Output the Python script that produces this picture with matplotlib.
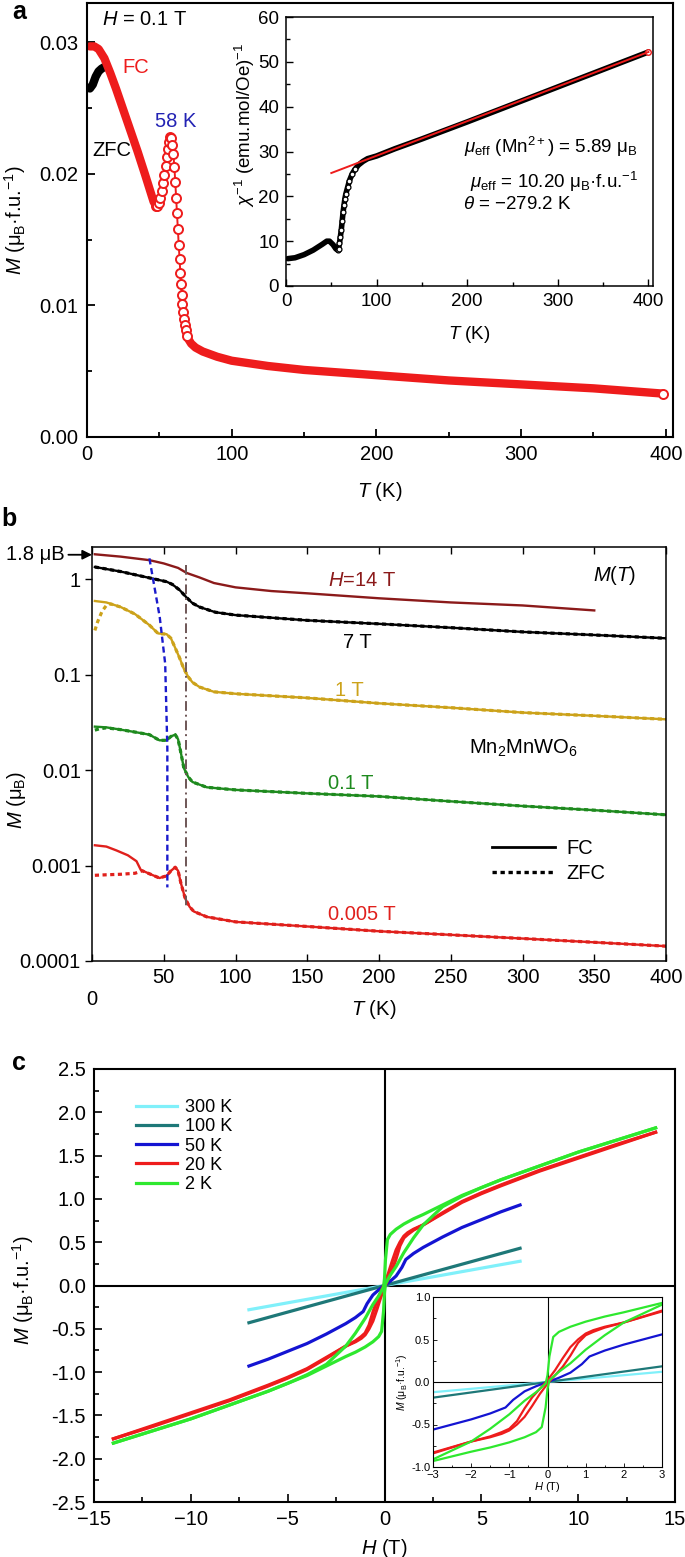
import numpy as np
import matplotlib
matplotlib.use("Agg")
import matplotlib.pyplot as plt
from matplotlib.lines import Line2D
from matplotlib.ticker import MultipleLocator, FormatStrFormatter, NullLocator

plt.rcParams["font.family"] = ["Liberation Sans", "DejaVu Sans"]
plt.rcParams["mathtext.fontset"] = "custom"
plt.rcParams["mathtext.rm"] = "Liberation Sans"
plt.rcParams["mathtext.it"] = "Liberation Sans:italic"
plt.rcParams["mathtext.bf"] = "Liberation Sans:bold"
plt.rcParams["font.size"] = 14.5

W, H = 685, 1557

# ---- panel a: M(T) at 0.1 T ----
a_fc_T = np.array([2, 5, 8, 12, 16, 20, 25, 30, 35, 40, 44, 46, 47.5, 48.5, 49.5, 50.5,
                   51.5, 52.5, 53.5, 54.5, 55.5, 56.3, 57, 57.5, 58.2, 59, 59.7, 60.4, 61,
                   61.6, 62.2, 62.8, 63.4, 64, 64.5, 65, 65.5, 66, 66.5, 67, 67.6, 68.3,
                   69.2, 70.3, 72, 75, 80, 90, 100, 125, 150, 200, 250, 300, 350, 398])
a_fc_M = np.array([0.0297, 0.0297, 0.0295, 0.0288, 0.0277, 0.0265, 0.0249, 0.0233, 0.0217,
                   0.0200, 0.0186, 0.0179, 0.0176, 0.0176, 0.0178, 0.0182, 0.0187, 0.0193,
                   0.0199, 0.0206, 0.0213, 0.0219, 0.0224, 0.0228, 0.0227, 0.0222, 0.0215,
                   0.0205, 0.0194, 0.0182, 0.0170, 0.0158, 0.0146, 0.0135, 0.0125, 0.0116,
                   0.0108, 0.0101, 0.0095, 0.0090, 0.0085, 0.0081, 0.0077, 0.0074, 0.0071,
                   0.0068, 0.0065, 0.0061, 0.0058, 0.0054, 0.0051, 0.0047, 0.0043, 0.0040,
                   0.0037, 0.0033])
a_zfc_T = np.array([2, 4, 6, 8, 10, 13])
a_zfc_M = np.array([0.0265, 0.0268, 0.0274, 0.0278, 0.0280, 0.0282])

# inset: inverse susceptibility and Curie-Weiss fit
chi_T = np.array([2, 10, 20, 30, 40, 45, 48, 52, 55, 57, 58, 59, 60, 61, 62, 63, 64, 65, 66,
                  68, 70, 73, 76, 80, 85, 90, 100, 120, 150, 200, 250, 300, 350, 400])
chi_inv = np.array([6.1, 6.3, 7.0, 8.0, 9.3, 10.0, 10.0, 9.2, 8.3, 8.0, 8.3, 9.5, 11.0, 12.5,
                    14.5, 16.5, 18.0, 19.5, 20.5, 22.0, 23.5, 25.0, 26.0, 27.0, 27.8, 28.4,
                    29.0, 30.6, 32.8, 36.6, 40.5, 44.4, 48.3, 52.2])
fit_T = [50, 400]
fit_chi = [25.2, 52.2]

# ---- panel b: M(T) at several fields (FC / ZFC) ----
b14_T = [2, 20, 40, 50, 60, 66, 75, 85, 100, 125, 150, 200, 250, 300, 350]
b14_M = [1.82, 1.72, 1.58, 1.46, 1.31, 1.16, 1.04, 0.91, 0.82, 0.75, 0.71, 0.63, 0.57, 0.53, 0.47]

b7_T = [2, 20, 40, 52, 56, 61, 66, 70, 75, 86, 100, 150, 200, 250, 300, 350, 400]
b7_M = [1.34, 1.20, 1.03, 0.94, 0.88, 0.77, 0.64, 0.56, 0.51, 0.45, 0.42, 0.37, 0.34, 0.31,
        0.28, 0.26, 0.24]

b1_T = [2, 10, 20, 30, 40, 46, 52, 55, 58, 61, 64, 67, 70, 75, 85, 100, 150, 200, 250, 300,
        350, 400]
b1_M = [0.59, 0.57, 0.51, 0.43, 0.33, 0.27, 0.265, 0.24, 0.19, 0.15, 0.115, 0.095, 0.083,
        0.074, 0.066, 0.063, 0.057, 0.050, 0.045, 0.040, 0.037, 0.034]
b1_zfc_T = [2, 4, 7, 10, 13]
b1_zfc_M = [0.29, 0.36, 0.46, 0.53, 0.55]

b01_T = [2, 10, 20, 30, 40, 47, 52, 55, 58, 60, 62, 64, 67, 70, 80, 100, 150, 200, 250, 300,
         350, 400]
b01_M = [0.0285, 0.0280, 0.0265, 0.0250, 0.0235, 0.0205, 0.0205, 0.0225, 0.0235, 0.0210,
         0.0150, 0.0105, 0.0085, 0.0075, 0.0066, 0.0062, 0.0057, 0.0053, 0.0047, 0.0042,
         0.0038, 0.0034]
b01_zfc_T = [2, 5, 10]
b01_zfc_M = [0.0262, 0.0270, 0.0277]

b005_T = [2, 10, 17, 25, 31, 34, 40, 47, 52, 55, 58, 60, 62, 65, 68, 71, 80, 100, 150, 200,
          250, 300, 350, 400]
b005_M = [0.00163, 0.00158, 0.00144, 0.00128, 0.00111, 0.00090, 0.00082, 0.00074, 0.00078,
          0.00088, 0.00096, 0.00088, 0.00065, 0.00045, 0.00037, 0.00033, 0.00029, 0.000257,
          0.00023, 0.000205, 0.000188, 0.000172, 0.000157, 0.000143]
b005_zfc_T = [2, 10, 20, 30, 35]
b005_zfc_M = [0.00079, 0.00080, 0.00081, 0.00083, 0.00088]

guide1_T = [40, 47.2, 51, 52.5, 52.5]
guide1_M = [1.65, 0.40, 0.13, 0.017, 0.00059]
guide2_T = [65.5, 65.5]
guide2_M = [1.4, 0.00035]

# ---- panel c: M(H) loops ----
h_2K = [14, 12, 10, 8, 6, 5, 4, 3, 2, 1.5, 1, 0.6, 0.3, 0.15, 0.05, 0, -0.05, -0.15, -0.3,
        -0.6, -1, -1.5, -2, -3, -4, -5, -6, -8, -10, -12, -14]
m_2K_down = [1.82, 1.68, 1.54, 1.38, 1.22, 1.13, 1.04, 0.93, 0.82, 0.77, 0.71, 0.65, 0.59,
             0.53, 0.30, 0.08, -0.02, -0.06, -0.12, -0.22, -0.38, -0.55, -0.70, -0.91, -1.03,
             -1.13, -1.22, -1.38, -1.54, -1.68, -1.82]
m_2K_up = [1.82, 1.68, 1.54, 1.38, 1.22, 1.13, 1.03, 0.91, 0.70, 0.55, 0.38, 0.22, 0.12, 0.06,
           0.02, -0.08, -0.30, -0.53, -0.59, -0.65, -0.71, -0.77, -0.82, -0.93, -1.04, -1.13,
           -1.22, -1.38, -1.54, -1.68, -1.82]

h_20K = [14, 12, 10, 8, 6, 5, 4, 3, 2, 1.5, 1.2, 1, 0.8, 0.6, 0.4, 0.2, 0, -0.2, -0.4, -0.6,
         -0.8, -1, -1.2, -1.5, -2, -3, -4, -5, -6, -8, -10, -12, -14]
m_20K_down = [1.77, 1.62, 1.47, 1.32, 1.15, 1.06, 0.96, 0.83, 0.70, 0.65, 0.61, 0.57, 0.50,
              0.41, 0.28, 0.14, 0.02, -0.08, -0.18, -0.31, -0.46, -0.55, -0.59, -0.64, -0.70,
              -0.84, -0.97, -1.07, -1.16, -1.33, -1.48, -1.63, -1.77]
m_20K_up = [1.77, 1.63, 1.48, 1.33, 1.16, 1.07, 0.97, 0.84, 0.70, 0.64, 0.59, 0.55, 0.46,
            0.31, 0.18, 0.08, -0.02, -0.14, -0.28, -0.41, -0.50, -0.57, -0.61, -0.65, -0.70,
            -0.83, -0.96, -1.06, -1.15, -1.32, -1.47, -1.62, -1.77]

h_50K = [7, 6, 5, 4, 3, 2, 1.5, 1.1, 0.9, 0.6, 0.3, 0, -0.3, -0.6, -0.9, -1.1, -1.5, -2, -3,
         -4, -5, -6, -7]
m_50K = [0.93, 0.85, 0.76, 0.67, 0.56, 0.44, 0.37, 0.30, 0.21, 0.11, 0.05, 0.0, -0.05, -0.11,
         -0.21, -0.30, -0.37, -0.44, -0.56, -0.67, -0.76, -0.85, -0.93]
h_100K = [-7, 7]
m_100K = [-0.43, 0.43]
h_300K = [-7, 7]
m_300K = [-0.28, 0.28]

RED = "#ee1c1c"
C300, C100, C50, C20, C2 = "#80f0fa", "#1e7878", "#1414d2", "#ee1c1c", "#2ee82e"

fig = plt.figure(figsize=(W / 100, H / 100), dpi=100)


def add_px_axes(left, top, right, bottom, **kw):
    return fig.add_axes([left / W, 1 - bottom / H, (right - left) / W, (bottom - top) / H], **kw)


def style_spines(ax, lw):
    for s in ax.spines.values():
        s.set_linewidth(lw)


# ================= panel a =================
axA = add_px_axes(87, 3, 673, 437)
axA.plot(a_zfc_T, a_zfc_M, color="k", lw=6, solid_capstyle="round")
band1 = a_fc_T <= 48
band2 = a_fc_T >= 68
steep = ((a_fc_T > 47) & (a_fc_T < 70)) | (a_fc_T > 396)
axA.plot(a_fc_T, a_fc_M, color=RED, lw=1.4)
axA.plot(a_fc_T[band1], a_fc_M[band1], color=RED, lw=6, solid_capstyle="round")
axA.plot(a_fc_T[band2], a_fc_M[band2], color=RED, lw=6, solid_capstyle="butt")
axA.plot(a_fc_T[steep], a_fc_M[steep], ls="none", marker="o", ms=6.5, mfc="white",
         mec=RED, mew=1.4)
axA.set_xlim(0, 405)
axA.set_ylim(0, 0.0330)
axA.xaxis.set_major_locator(MultipleLocator(100))
axA.xaxis.set_minor_locator(MultipleLocator(50))
axA.yaxis.set_major_locator(MultipleLocator(0.01))
axA.yaxis.set_minor_locator(MultipleLocator(0.005))
axA.yaxis.set_major_formatter(FormatStrFormatter("%.2f"))
axA.tick_params(which="both", direction="in", width=1.3)
axA.tick_params(which="major", length=6, pad=6)
axA.tick_params(which="minor", length=3.5)
style_spines(axA, 1.5)
axA.set_xlabel(r"$T$ (K)")
axA.xaxis.set_label_coords(0.5, -0.1)
axA.set_ylabel(r"$M$ (μ$_\mathrm{B}$·f.u.$^{-1}$)")
axA.yaxis.set_label_coords(-0.1, 0.5)
axA.text(10.7, 0.03175, r"$H$ = 0.1 T", va="center")
axA.text(24.5, 0.0281, "FC", color=RED, va="center")
axA.text(3.8, 0.0218, "ZFC", color="k", va="center")
axA.text(46.7, 0.0240, "58 K", color="#2323b4", va="center")

# inset a
axI = add_px_axes(286, 17, 653, 286)
axI.set_facecolor("white")
mid = (chi_T >= 57) & (chi_T <= 76)
axI.plot(chi_T, chi_inv, color="k", lw=4, solid_capstyle="round")
axI.plot(chi_T[mid], chi_inv[mid], ls="none", marker="o", ms=3.5, mfc="white", mec="k",
         mew=0.9)
axI.plot(chi_T[-1:], chi_inv[-1:], ls="none", marker="o", ms=4, mfc="white", mec=RED, mew=1)
axI.plot(fit_T, fit_chi, color=RED, lw=1.4)
axI.set_xlim(0, 405)
axI.set_ylim(0, 60)
axI.xaxis.set_major_locator(MultipleLocator(100))
axI.xaxis.set_minor_locator(MultipleLocator(50))
axI.yaxis.set_major_locator(MultipleLocator(10))
axI.yaxis.set_minor_locator(MultipleLocator(5))
axI.tick_params(which="both", direction="in", width=1.0, labelsize=13.5)
axI.tick_params(which="major", length=5, pad=5)
axI.tick_params(which="minor", length=3)
style_spines(axI, 1.1)
axI.set_xlabel(r"$T$ (K)", fontsize=13.5)
axI.xaxis.set_label_coords(0.5, -0.14)
axI.set_ylabel(r"$\chi^{-1}$ (emu.mol/Oe)$^{-1}$", fontsize=13.5)
axI.yaxis.set_label_coords(-0.079, 0.6)
axI.text(196, 31.0, r"$\mu_\mathrm{eff}$ (Mn$^{2+}$) = 5.89 μ$_\mathrm{B}$", va="center",
         fontsize=13.5)
axI.text(203, 23.2, r"$\mu_\mathrm{eff}$ = 10.20 μ$_\mathrm{B}$·f.u.$^{-1}$", va="center",
         fontsize=13.5)
axI.text(195, 18.1, r"$\theta$ = −279.2 K", va="center", fontsize=13.5)

# ================= panel b =================
axB = add_px_axes(92, 547, 666, 961)
LWB = 1.7
DOT = (0, (1.3, 1.1))
b_sets = [
    (b14_T, b14_M, None, None, "#8b1a1a"),
    (b7_T, b7_M, [], [], "k"),
    (b1_T, b1_M, b1_zfc_T, b1_zfc_M, "#cca21a"),
    (b01_T, b01_M, b01_zfc_T, b01_zfc_M, "#1e8a1e"),
    (b005_T, b005_M, b005_zfc_T, b005_zfc_M, "#e0201c"),
]
for fT, fM, zT, zM, col in b_sets:
    axB.plot(fT, fM, color=col, lw=LWB)
    if zT is None:
        continue
    fT_arr = np.array(fT)
    fM_arr = np.array(fM)
    start = max(zT) if len(zT) else 0
    keep = fT_arr > start
    axB.plot(np.r_[zT, fT_arr[keep]], np.r_[zM, fM_arr[keep]], color=col, lw=2.3, ls=DOT)
axB.plot(guide1_T, guide1_M, color="#1a1acc", lw=1.7, ls=(0, (2.6, 1.6)))
axB.plot(guide2_T, guide2_M, color="#6e5656", lw=1.4, ls=(0, (5, 2, 1, 2)))
axB.set_yscale("log")
axB.set_xlim(0, 400)
axB.set_ylim(1e-4, 2.17)
axB.set_xticks([0, 50, 100, 150, 200, 250, 300, 350, 400],
               labels=["\n0", "50", "100", "150", "200", "250", "300", "350", "400"])
axB.set_yticks([1e-4, 1e-3, 1e-2, 1e-1, 1], labels=["0.0001", "0.001", "0.01", "0.1", "1"])
axB.yaxis.set_minor_locator(NullLocator())
axB.tick_params(axis="x", which="major", direction="in", top=True, length=5, width=1.0, pad=5)
axB.tick_params(axis="y", which="major", direction="out", length=5, width=1.0, pad=3)
style_spines(axB, 1.1)
axB.set_xlabel(r"$T$ (K)")
axB.xaxis.set_label_coords(0.49, -0.09)
axB.set_ylabel(r"$M$ (μ$_\mathrm{B}$)")
axB.yaxis.set_label_coords(-0.112, 0.39)
axB.text(164.5, 0.976, r"$H$=14 T", color="#8b1a1a", va="center")
axB.text(175, 0.217, "7 T", color="k", va="center")
axB.text(169, 0.068, "1 T", color="#cca21a", va="center")
axB.text(164.5, 0.0073, "0.1 T", color="#1e8a1e", va="center")
axB.text(164.5, 0.000305, "0.005 T", color="#e0201c", va="center")
axB.text(349, 1.1, r"$M$($T$)", va="center")
axB.text(263, 0.017, r"Mn$_2$MnWO$_6$", va="center")
axB.annotate("1.8 μB", xy=(0, 1.8), xycoords=("axes fraction", "data"), xytext=(-20, 0),
             textcoords="offset points", ha="right", va="center",
             arrowprops=dict(arrowstyle="-|>", color="k", lw=1.3, mutation_scale=14,
                             shrinkA=1, shrinkB=0))
b_handles = [Line2D([], [], color="k", lw=2), Line2D([], [], color="k", lw=2.4, ls=DOT)]
axB.legend(b_handles, ["FC", "ZFC"], loc="upper left", bbox_to_anchor=(0.697, 0.295),
           frameon=False, handlelength=3.1, handletextpad=0.6, labelspacing=0.3,
           borderpad=0, borderaxespad=0)

# ================= panel c =================
axC = add_px_axes(94, 1069, 675, 1502)
axC.axhline(0, color="k", lw=1.5, zorder=1)
axC.axvline(0, color="k", lw=1.5, zorder=1)
LWC = 2.3
axC.plot(h_300K, m_300K, color=C300, lw=LWC, label="300 K")
axC.plot(h_100K, m_100K, color=C100, lw=LWC, label="100 K")
axC.plot(h_50K, m_50K, color=C50, lw=LWC, label="50 K")
axC.plot(h_20K, m_20K_down, color=C20, lw=LWC, label="20 K")
axC.plot(h_20K, m_20K_up, color=C20, lw=LWC)
axC.plot(h_2K, m_2K_down, color=C2, lw=LWC, label="2 K")
axC.plot(h_2K, m_2K_up, color=C2, lw=LWC)
axC.set_xlim(-15, 15)
axC.set_ylim(-2.5, 2.5)
axC.xaxis.set_major_locator(MultipleLocator(5))
axC.xaxis.set_minor_locator(MultipleLocator(2.5))
axC.yaxis.set_major_locator(MultipleLocator(0.5))
axC.yaxis.set_minor_locator(MultipleLocator(0.25))
axC.yaxis.set_major_formatter(FormatStrFormatter("%.1f"))
axC.tick_params(which="both", direction="in", width=1.2)
axC.tick_params(which="major", length=6, pad=6)
axC.tick_params(which="minor", length=3.5)
style_spines(axC, 1.5)
axC.set_xlabel(r"$H$ (T)")
axC.xaxis.set_label_coords(0.5, -0.08)
axC.set_ylabel(r"$M$ (μ$_\mathrm{B}$·f.u.$^{-1}$)")
axC.yaxis.set_label_coords(-0.1, 0.49)
axC.legend(loc="upper left", bbox_to_anchor=(0.072, 0.93), frameon=False, handlelength=2.3,
           handletextpad=0.4, labelspacing=0.12, borderpad=0, borderaxespad=0, fontsize=13)

# inset c
axCi = add_px_axes(433, 1297, 662, 1467)
axCi.set_facecolor("white")
axCi.axhline(0, color="k", lw=0.8, zorder=1)
axCi.axvline(0, color="k", lw=0.8, zorder=1)
LWI = 1.6
axCi.plot(h_300K, m_300K, color=C300, lw=LWI)
axCi.plot(h_100K, m_100K, color=C100, lw=LWI)
axCi.plot(h_50K, m_50K, color=C50, lw=LWI)
axCi.plot(h_20K, m_20K_down, color=C20, lw=LWI)
axCi.plot(h_20K, m_20K_up, color=C20, lw=LWI)
axCi.plot(h_2K, m_2K_down, color=C2, lw=LWI)
axCi.plot(h_2K, m_2K_up, color=C2, lw=LWI)
axCi.set_xlim(-3, 3)
axCi.set_ylim(-1, 1)
axCi.xaxis.set_major_locator(MultipleLocator(1))
axCi.xaxis.set_minor_locator(MultipleLocator(0.5))
axCi.yaxis.set_major_locator(MultipleLocator(0.5))
axCi.yaxis.set_minor_locator(MultipleLocator(0.25))
axCi.yaxis.set_major_formatter(FormatStrFormatter("%.1f"))
axCi.tick_params(which="both", direction="in", width=0.6, labelsize=8, pad=2)
axCi.tick_params(which="major", length=3)
axCi.tick_params(which="minor", length=1.8)
style_spines(axCi, 0.8)
axCi.set_xlabel(r"$H$ (T)", fontsize=8, labelpad=0)
axCi.set_ylabel(r"$M$ (μ$_\mathrm{B}$·f.u.$^{-1}$)", fontsize=7.5, labelpad=1)

# panel letters
fig.text(12 / W, 1 - 12 / H, "a", fontsize=18, weight="bold", va="center")
fig.text(1 / W, 1 - 519 / H, "b", fontsize=18, weight="bold", va="center")
fig.text(12 / W, 1 - 1063 / H, "c", fontsize=18, weight="bold", va="center")

fig.savefig("out.png", dpi=100)
